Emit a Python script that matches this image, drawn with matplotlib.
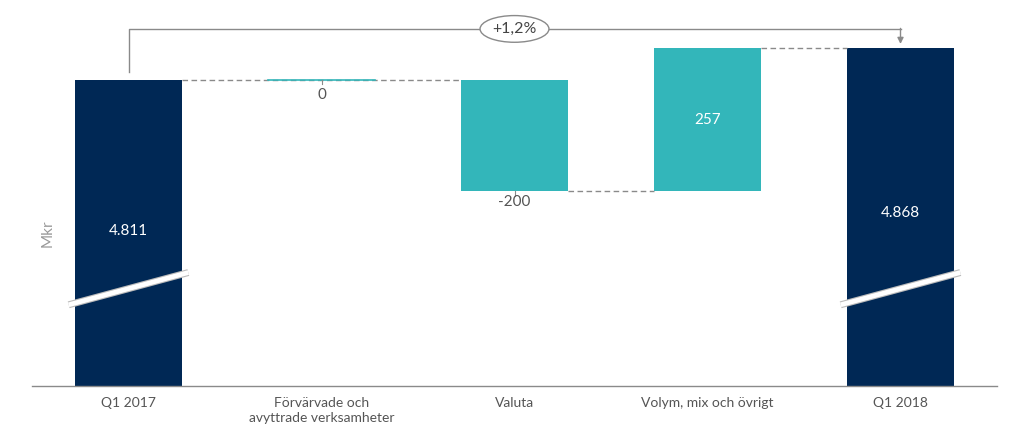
import matplotlib.pyplot as plt
from matplotlib.patches import Ellipse

# waterfall data (Mkr)
categories = ['Q1 2017', 'Förvärvade och\navyttrade verksamheter', 'Valuta',
              'Volym, mix och övrigt', 'Q1 2018']
start_value = 4811
changes = [0, -200, 257]
end_value = 4868
change_text = '+1,2%'
value_labels = ['4.811', '0', '-200', '257', '4.868']

navy = '#002855'
teal = '#33b6ba'
grey = '#8a8a8a'
text_grey = '#555555'

plt.rcParams['font.family'] = ['Lato', 'DejaVu Sans']

y_min, y_max = 4261, 4955
width = 0.555

fig = plt.figure(figsize=(10.24, 4.38), dpi=100)
ax = fig.add_axes([32 / 1024, 52 / 438, 965 / 1024, 386 / 438])
ax.set_xlim(-0.5, 4.5)
ax.set_ylim(y_min, y_max)

# totals
ax.bar(0, start_value - y_min, bottom=y_min, width=width, color=navy)
ax.bar(4, end_value - y_min, bottom=y_min, width=width, color=navy)

# steps
level = start_value
levels = [start_value]
for i, ch in enumerate(changes, start=1):
    lo = min(level, level + ch)
    h = abs(ch)
    if h == 0:
        ax.plot([i - width / 2, i + width / 2], [level, level], color=teal, lw=1.2)
    else:
        ax.bar(i, h, bottom=lo, width=width, color=teal)
    level += ch
    levels.append(level)

# dashed connectors
ax.plot([width / 2, 2 - width / 2], [levels[0], levels[0]], ls=(0, (4, 2.5)),
        color=grey, lw=1, zorder=1)
ax.plot([2 + width / 2, 3 - width / 2], [levels[2], levels[2]], ls=(0, (4, 2.5)),
        color=grey, lw=1)
ax.plot([3 + width / 2, 4 - width / 2], [levels[3], levels[3]], ls=(0, (4, 2.5)),
        color=grey, lw=1)

# value labels
ax.text(0, 4540, value_labels[0], color='white', ha='center', va='center', fontsize=11)
ax.text(4, 4572, value_labels[4], color='white', ha='center', va='center', fontsize=11)
ax.text(3, levels[3] - 128, value_labels[3], color='white', ha='center', va='center', fontsize=11)
ax.text(1, levels[1] - 27, value_labels[1], color=text_grey, ha='center', va='center', fontsize=11)
ax.text(2, levels[2] - 20, value_labels[2], color=text_grey, ha='center', va='center', fontsize=11)
ax.plot([1, 1], [levels[1], levels[1] - 7], color=grey, lw=0.8)
ax.plot([2, 2], [levels[2], levels[2] - 9], color=grey, lw=0.8)

# axis break marks
for xc in (0, 4):
    xs = [xc - 0.31, xc + 0.31]
    ys = [4407, 4465]
    ax.plot(xs, ys, color='#bbbbbb', lw=5, solid_capstyle='butt')
    ax.plot(xs, ys, color='white', lw=3.4, solid_capstyle='butt')

# bracket with percentage change
yb = 4903
ax.plot([0, 0, 4], [start_value + 14, yb, yb], color=grey, lw=1)
ax.annotate('', xy=(4, end_value + 8), xytext=(4, yb + 1),
            arrowprops=dict(arrowstyle='-|>', color=grey, lw=1,
                            mutation_scale=9, shrinkA=0, shrinkB=0))
ax.add_patch(Ellipse((2.0, yb), 0.357, 48, facecolor='white', edgecolor=grey, lw=1, zorder=3))
ax.text(2.0, yb, change_text, ha='center', va='center', fontsize=11.5,
        color='#444444', zorder=4)

ax.set_xticks(range(len(categories)))
ax.set_xticklabels(categories, fontsize=10, color=text_grey, linespacing=1.3)
ax.tick_params(axis='x', length=0, pad=8)
ax.set_yticks([])
for side in ('top', 'right', 'left'):
    ax.spines[side].set_visible(False)
ax.spines['bottom'].set_color(grey)
ax.spines['bottom'].set_linewidth(1)

fig.text(48 / 1024, 1 - 233 / 438, 'Mkr', rotation=90, ha='center', va='center',
         fontsize=11, color='#999999')

fig.savefig('out.png', dpi=100)
